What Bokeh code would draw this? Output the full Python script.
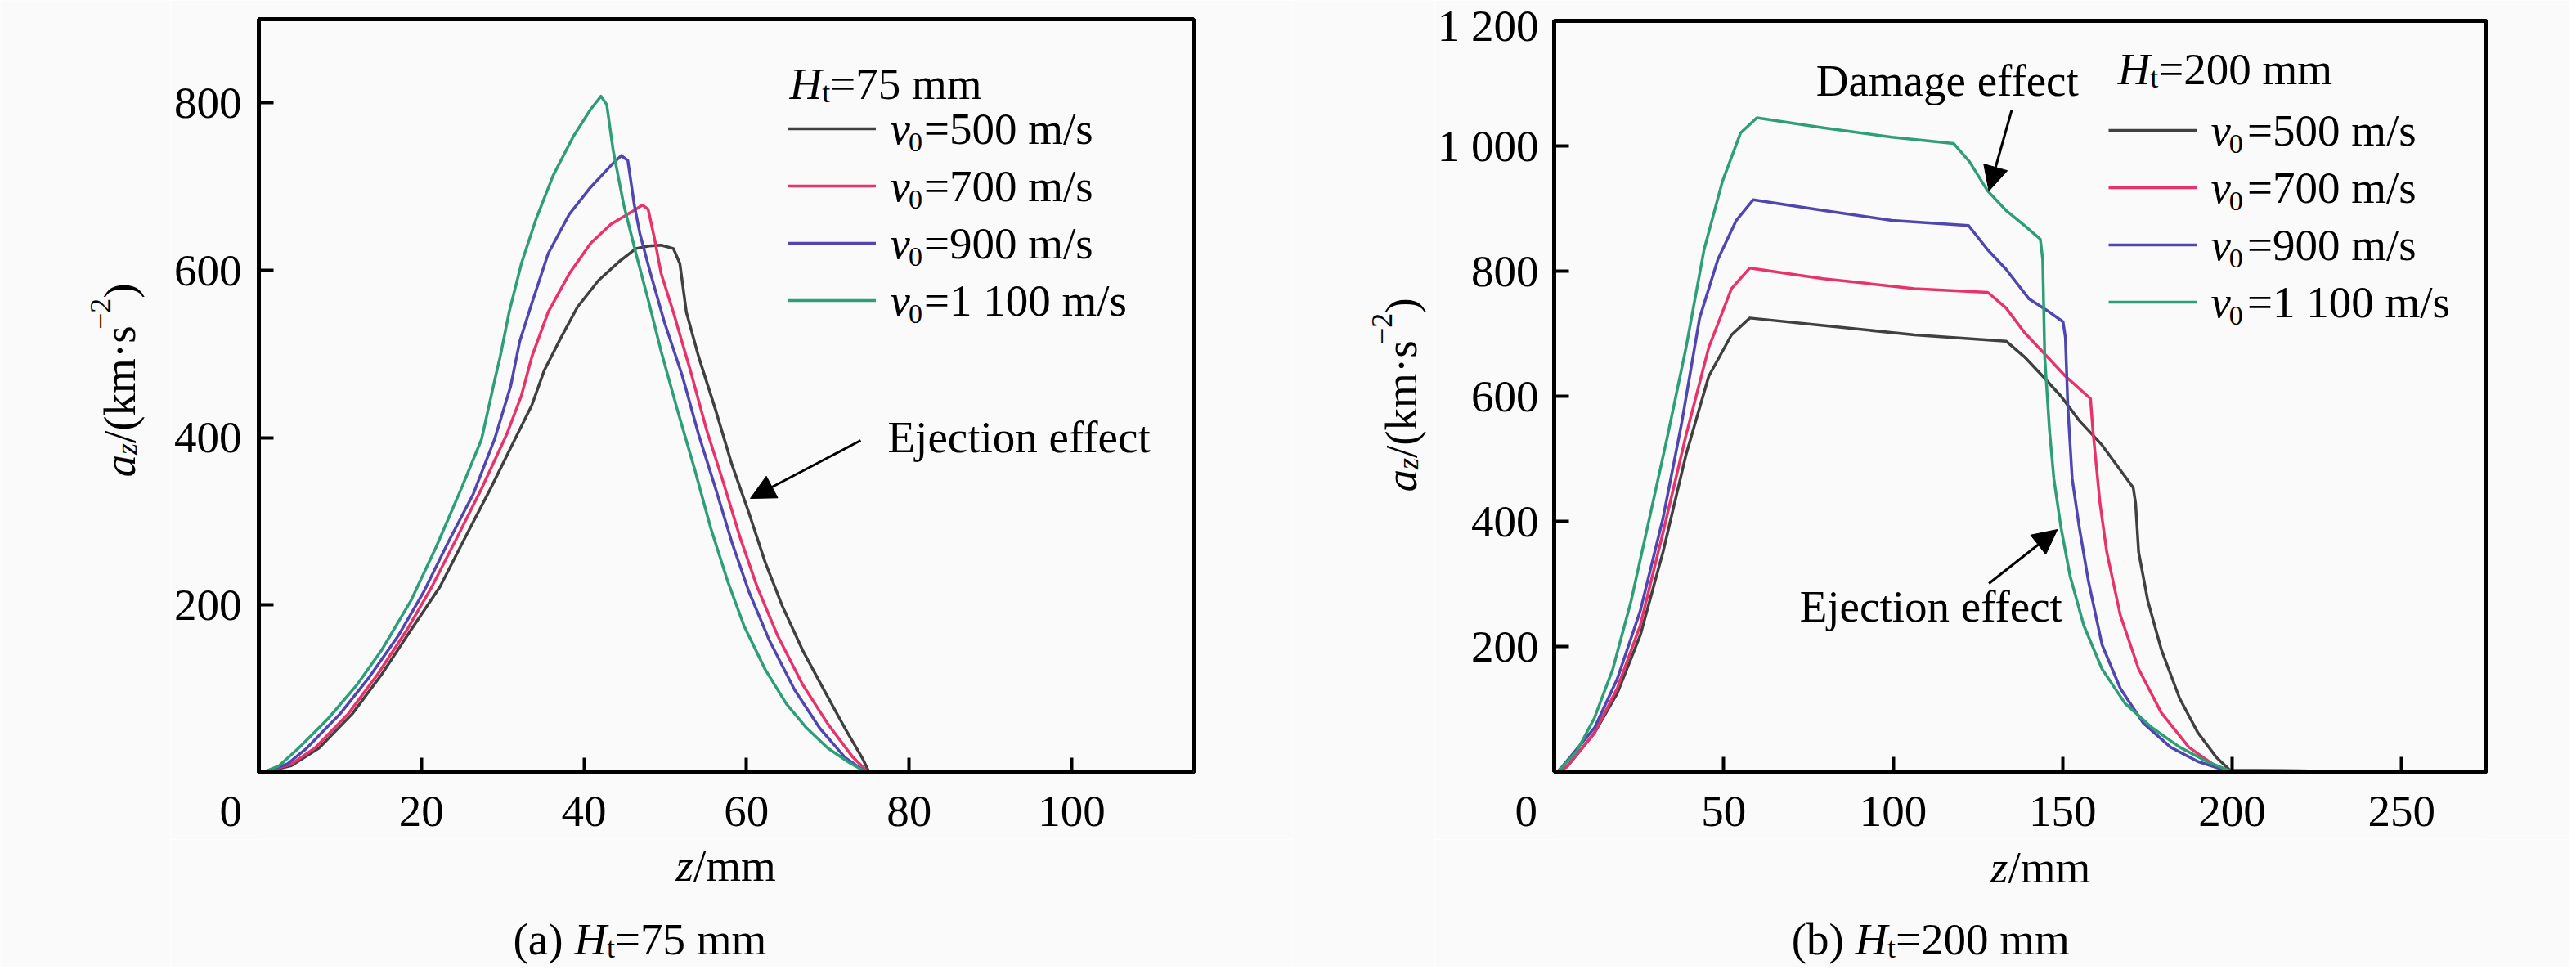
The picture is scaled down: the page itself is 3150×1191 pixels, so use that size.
from bokeh.plotting import figure
from bokeh.models import Label, Arrow, NormalHead, Legend, LegendItem, FixedTicker, Range1d
from bokeh.layouts import row, column
from bokeh.embed import file_html
from bokeh.resources import INLINE
from bokeh.core.properties import value

# ---------------- data: panel (a) H_t = 75 mm ----------------
z75_v500 = [0.5, 4, 7.4, 11.5, 15.1, 18.7, 22.3, 25.4, 28.5, 31.5, 33.6, 35.1, 37.2, 39.2, 41.8, 44.4, 46.4, 48, 49.5, 51, 51.8, 52.6, 54.1, 56.2, 58.2, 60.3, 62.3, 64.4, 66.9, 69.5, 72.1, 74.2, 75.1, 115]
a75_v500 = [0, 8, 29, 70, 117, 170, 222, 281, 339, 398, 439, 480, 520, 556, 588, 611, 626, 629, 630, 626, 608, 550, 497, 433, 368, 310, 251, 199, 146, 99, 53, 18, 0, 0]
z75_v700 = [0.5, 4, 6.9, 11, 14.6, 18.2, 21.3, 24.4, 27.4, 30.5, 32.3, 33.6, 35.6, 38.2, 40.8, 43.3, 45.9, 47.2, 47.9, 48.7, 49.5, 51, 53.1, 55.1, 57.2, 59.2, 61.3, 63.8, 66.9, 70, 73.1, 74.9, 115]
a75_v700 = [0, 10, 29, 70, 117, 170, 222, 281, 339, 404, 450, 497, 550, 596, 632, 655, 670, 678, 673, 637, 596, 550, 480, 409, 345, 281, 222, 164, 105, 58, 18, 1, 0]
z75_v900 = [0.5, 3.5, 5.9, 10, 13.6, 17.2, 20.3, 23.3, 26.4, 29, 31, 32.1, 33.6, 35.6, 38.2, 40.8, 43.3, 44.6, 45.4, 46.2, 46.9, 48.2, 49.9, 52.1, 54.1, 56.2, 58.2, 60.3, 62.8, 65.9, 69, 72.1, 74.6, 115]
a75_v900 = [0, 10, 29, 70, 114, 164, 216, 275, 333, 398, 462, 515, 561, 620, 667, 699, 725, 737, 731, 678, 643, 596, 538, 474, 404, 339, 275, 216, 158, 99, 53, 18, 1, 0]
z75_v1100 = [0.5, 2.5, 4.9, 8.5, 12.1, 15.1, 18.7, 21.8, 24.9, 27.4, 29, 29.7, 30.8, 32.3, 34.1, 36.2, 38.7, 40.8, 42.1, 42.8, 43.6, 44.9, 46.4, 48, 49.5, 51.5, 53.6, 55.6, 57.7, 59.7, 62.3, 64.9, 67.4, 70, 72.6, 74.6, 75.1, 115]
a75_v1100 = [0, 8, 29, 64, 105, 146, 205, 269, 339, 398, 468, 497, 550, 608, 661, 713, 760, 792, 808, 798, 743, 678, 620, 561, 503, 433, 363, 292, 228, 175, 123, 82, 53, 29, 12, 1, 0, 0]

# ---------------- data: panel (b) H_t = 200 mm ----------------
z200_v500 = [1, 3.8, 11.9, 18.6, 25.4, 32.1, 38.9, 45.6, 52.3, 57.7, 79.3, 106.3, 133.3, 138.7, 144.1, 149.5, 154.9, 161.6, 170.8, 171.5, 172.4, 175.1, 179.1, 184.5, 189.9, 195.3, 199.4, 245]
a200_v500 = [0, 8, 62, 125, 218, 351, 507, 632, 698, 725, 713, 698, 688, 663, 632, 600, 561, 522, 454, 429, 351, 273, 195, 117, 62, 23, 2, 0]
z200_v700 = [1, 3.8, 11.9, 18.6, 25.4, 32.1, 38.9, 45.6, 52.3, 57.7, 79.3, 106.3, 127.9, 133.3, 138.7, 144.1, 150.8, 158.2, 158.9, 159.6, 161, 163, 167, 172.4, 179.1, 187.2, 195.3, 198, 245]
a200_v700 = [0, 8, 62, 133, 234, 382, 538, 678, 772, 805, 788, 772, 766, 741, 702, 671, 632, 596, 546, 507, 429, 351, 250, 164, 94, 39, 8, 2, 0]
z200_v900 = [1, 2.4, 11.9, 18.6, 25.4, 32.1, 37.5, 42.9, 48.3, 53.7, 58.7, 79.3, 99.6, 122.2, 127.9, 133.3, 140, 145.4, 150.1, 150.8, 151.5, 152.8, 154.9, 157.6, 161.6, 167, 173.7, 181.8, 189.9, 198, 245]
a200_v900 = [0, 8, 70, 148, 257, 405, 554, 725, 819, 881, 914, 897, 881, 873, 834, 803, 756, 737, 719, 694, 585, 468, 390, 304, 203, 133, 78, 39, 16, 2, 0]
z200_v1100 = [1, 6.5, 11.9, 17.3, 22.7, 28.1, 33.5, 38.9, 44.2, 49.6, 55, 59.8, 79.3, 99.6, 117.8, 122.5, 127.9, 133.3, 138.7, 143.4, 144.1, 144.7, 146.1, 147.4, 149.5, 152.2, 156.2, 161.6, 168.4, 176.4, 184.5, 192.6, 198, 200, 245]
a200_v1100 = [0, 31, 86, 164, 273, 405, 538, 678, 834, 943, 1021, 1045, 1029, 1014, 1004, 975, 928, 897, 873, 851, 819, 663, 546, 468, 390, 312, 234, 164, 109, 70, 39, 16, 4, 0, 0]

speed_labels = ["=500 m/s", "=700 m/s", "=900 m/s", "=1 100 m/s"]
xticks_a = [0, 20, 40, 60, 80, 100]
yticks_a = [200, 400, 600, 800]
xticks_b = [0, 50, 100, 150, 200, 250]
yticks_b = [200, 400, 600, 800, 1000, 1200]
ylabels_b = {1000: "1 000", 1200: "1 200"}
zero_label = {0: "0" + "\u00a0" * 5}

FONT = "Liberation Serif"
BG = "#fafafa"
COLORS = ["#404040", "#e8336a", "#5046b0", "#2e9e78"]
FS = 55
SUB = 36
BASE_FIX = 17      # measured offset of drawn alphabetic baseline (horizontal text)
BASE_FIX_ROT = 26  # same, for text rotated by 90 degrees

REG = {' ': 250, '(': 333, ')': 333, '/': 278, '=': 564, '\u00b7': 250, '\u2212': 564,
       'a': 444, 'b': 500, 'c': 444, 'e': 444, 'f': 333, 'k': 500, 'm': 778, 's': 389,
       't': 278, 'z': 444, 'H': 722, 'E': 611, 'j': 278, 'i': 278, 'o': 500, 'n': 500,
       'D': 722, 'g': 500}
ITA = {'a': 500, 'z': 389, 'v': 444, 'H': 722, 't': 278}

TOP, BOT = 0, 1183
MAIN_BOTTOM = 1026


def tw(text, size, italic=False):
    tbl = ITA if italic else REG
    return sum(tbl.get(ch, 500) for ch in text) * size / 1000.0


def make_mapper(left, right, top, bottom, xr, yr):
    def fx(px):
        return xr[0] + (px - left) * (xr[1] - xr[0]) / (right - left)

    def fy(py):
        return yr[0] + (bottom - py) * (yr[1] - yr[0]) / (bottom - top)
    return fx, fy


def rich(p, fx, fy, px, py, segs, rotated=False, baseline="alphabetic"):
    if baseline == "alphabetic":
        fix = BASE_FIX_ROT if rotated else BASE_FIX
    else:
        fix = 0
    adv = 0.0
    for text, size, italic, shift in segs:
        if rotated:
            ax, ay = px + shift - fix, py - adv
        else:
            ax, ay = px + adv, py + shift - fix
        p.add_layout(Label(x=fx(ax), y=fy(ay), text=text, text_font=FONT,
                           text_font_size=f"{size}px",
                           text_font_style="italic" if italic else "normal",
                           text_align="left", text_baseline=baseline,
                           angle=1.5707963267948966 if rotated else 0,
                           text_color="black"))
        adv += tw(text, size, italic)


def strip_fig(fig_left, fig_right, fl, fr, top, bottom, xr):
    """Caption strip under a plot: same horizontal frame as the plot above it."""
    h = bottom - top
    p = figure(width=fig_right - fig_left, height=h, output_backend="svg",
               toolbar_location=None, x_range=Range1d(*xr), y_range=Range1d(0, h),
               x_axis_location=None, y_axis_location=None,
               min_border_left=fl - fig_left, min_border_right=fig_right - fr,
               min_border_top=0, min_border_bottom=0,
               background_fill_color=BG, border_fill_color=BG, outline_line_color=None)
    p.grid.visible = False
    fx, fy = make_mapper(fl, fr, top, bottom, xr, (0, h))
    return p, fx, fy


def side_fig(left, right, top, bottom):
    w, h = right - left, bottom - top
    p = figure(width=w, height=h, output_backend="svg", toolbar_location=None,
               x_range=Range1d(0, w), y_range=Range1d(0, h),
               x_axis_location=None, y_axis_location=None,
               min_border=0, min_border_left=0, min_border_right=0,
               min_border_top=0, min_border_bottom=0,
               background_fill_color=BG, border_fill_color=BG, outline_line_color=None)
    p.grid.visible = False
    fx, fy = make_mapper(left, right, top, bottom, (0, w), (0, h))
    return p, fx, fy


def base_fig(fig_left, fig_right, fl, fr, ft, fb, xr, yr, xt, yt, ystand, xstand):
    p = figure(width=fig_right - fig_left, height=MAIN_BOTTOM - TOP,
               output_backend="svg", toolbar_location=None,
               x_range=Range1d(*xr), y_range=Range1d(*yr),
               min_border_left=fl - fig_left, min_border_right=fig_right - fr,
               min_border_top=ft - TOP, min_border_bottom=MAIN_BOTTOM - fb,
               background_fill_color=BG, border_fill_color=BG)
    p.grid.visible = False
    p.outline_line_color = "black"
    p.outline_line_width = 5
    for ax in (p.xaxis[0], p.yaxis[0]):
        ax.axis_line_width = 5
        ax.axis_line_color = "black"
        ax.major_tick_in = 18
        ax.major_tick_out = 0
        ax.minor_tick_in = 0
        ax.minor_tick_out = 0
        ax.major_tick_line_width = 4
        ax.major_tick_line_color = "black"
        ax.major_label_text_font = FONT
        ax.major_label_text_font_size = f"{FS}px"
        ax.major_label_text_color = "black"
    p.xaxis.ticker = FixedTicker(ticks=xt)
    p.yaxis.ticker = FixedTicker(ticks=yt)
    p.xaxis.major_label_overrides = zero_label
    p.xaxis.major_label_standoff = xstand
    p.yaxis.major_label_standoff = ystand
    return p


def add_series(p, fx, fy, series, leg_loc, leg_standoff, row_y, v_x, title_xy, title_txt):
    rends = []
    for (xs, ys), c in zip(series, COLORS):
        r = p.line(xs, ys, line_color=c, line_width=3.5, line_join="round")
        rends.append(r)
    items = [LegendItem(label=value(t), renderers=[r]) for t, r in zip(speed_labels, rends)]
    leg = Legend(items=items, location=leg_loc, orientation="vertical",
                 glyph_width=108, glyph_height=70, label_height=70, spacing=0,
                 padding=0, margin=0, title_standoff=0, label_standoff=leg_standoff,
                 label_text_font=FONT, label_text_font_size=f"{FS}px",
                 label_text_color="black", label_text_baseline="middle",
                 border_line_alpha=0, background_fill_alpha=0)
    p.add_layout(leg)
    for ry in row_y:
        rich(p, fx, fy, v_x, ry, [("v", FS, True, 0)], baseline="middle")
        rich(p, fx, fy, v_x + tw("v", FS, True) - 2, ry, [("0", SUB - 2, False, 16)],
             baseline="middle")
    rich(p, fx, fy, title_xy[0], title_xy[1],
         [("H", FS, True, 0), ("t", SUB, False, 10), (title_txt, FS, False, 0)])


def ylabel(p, fx, fy, x, y):
    rich(p, fx, fy, x, y,
         [("a", FS, True, 0), ("z", SUB, True, 8), ("/(km\u00b7s", FS, False, 0),
          ("\u22122", SUB, False, -24), (")", FS, False, 0)], rotated=True)


def bottom_texts(p, fx, fy, xlab_xy, cap_xy, cap_txt):
    rich(p, fx, fy, xlab_xy[0], xlab_xy[1], [("z", FS, True, 0), ("/mm", FS, False, 0)])
    rich(p, fx, fy, cap_xy[0], cap_xy[1],
         [(cap_txt[0], FS, False, 0), ("H", FS, True, 0), ("t", SUB, False, 10),
          (cap_txt[1], FS, False, 0)])


# ---------------- panel (a) ----------------
A_L, A_R, A_T, A_B = 316, 1459, 23, 944
A_FIG_L, A_FIG_R = 208, 1580
fxa, fya = make_mapper(A_L, A_R, A_T, A_B, (0, 115), (0, 900))
pa = base_fig(A_FIG_L, A_FIG_R, A_L, A_R, A_T, A_B, (0, 115), (0, 900),
              xticks_a, yticks_a, 21, 16)
add_series(pa, fxa, fya,
           [(z75_v500, a75_v500), (z75_v700, a75_v700), (z75_v900, a75_v900), (z75_v1100, a75_v1100)],
           leg_loc=(963 - A_L, A_B - (122 + 280)), leg_standoff=59,
           row_y=[157, 227, 297, 367], v_x=1088, title_xy=(965, 119), title_txt="=75 mm")
rich(pa, fxa, fya, 1085, 551, [("Ejection effect", FS, False, 0)])
pa.add_layout(Arrow(end=NormalHead(size=30, fill_color="black", line_color="black"),
                    x_start=fxa(1052), y_start=fya(538), x_end=fxa(917), y_end=fya(609),
                    line_width=3, line_color="black"))

ya, fxya, fyya = side_fig(TOP, A_FIG_L, TOP, BOT)
ylabel(ya, fxya, fyya, 172, 583)
ba, fxba, fyba = strip_fig(A_FIG_L, A_FIG_R, A_L, A_R, MAIN_BOTTOM, BOT, (0, 115))
bottom_texts(ba, fxba, fyba, (826, 1075), (627, 1165), ("(a) ", "=75 mm"))

# ---------------- panel (b) ----------------
B_L, B_R, B_T, B_B = 1897, 3040, 25, 943
B_FIG_L, B_FIG_R = 1754, 3142
fxb, fyb = make_mapper(B_L, B_R, B_T, B_B, (0, 275), (0, 1200))
pb = base_fig(B_FIG_L, B_FIG_R, B_L, B_R, B_T, B_B, (0, 275), (0, 1200),
              xticks_b, yticks_b, 19, 17)
pb.yaxis.major_label_overrides = ylabels_b
add_series(pb, fxb, fyb,
           [(z200_v500, a200_v500), (z200_v700, a200_v700), (z200_v900, a200_v900), (z200_v1100, a200_v1100)],
           leg_loc=(2575 - B_L, B_B - (124 + 280)), leg_standoff=62,
           row_y=[159, 229, 299, 369], v_x=2702, title_xy=(2588, 101), title_txt="=200 mm")
rich(pb, fxb, fyb, 2218, 115, [("Damage effect", FS, False, 0)])
rich(pb, fxb, fyb, 2198, 758, [("Ejection effect", FS, False, 0)])
pb.add_layout(Arrow(end=NormalHead(size=30, fill_color="black", line_color="black"),
                    x_start=fxb(2458), y_start=fyb(134), x_end=fxb(2430), y_end=fyb(233),
                    line_width=3, line_color="black"))
pb.add_layout(Arrow(end=NormalHead(size=30, fill_color="black", line_color="black"),
                    x_start=fxb(2430), y_start=fyb(713), x_end=fxb(2514), y_end=fyb(647),
                    line_width=3, line_color="black"))

yb, fxyb, fyyb = side_fig(A_FIG_R, B_FIG_L, TOP, BOT)
ylabel(yb, fxyb, fyyb, 1739, 601)
bb, fxbb, fybb = strip_fig(B_FIG_L, B_FIG_R, B_L, B_R, MAIN_BOTTOM, BOT, (0, 275))
bottom_texts(bb, fxbb, fybb, (2432, 1077), (2188, 1165), ("(b) ", "=200 mm"))

layout = row(ya, column(pa, ba), yb, column(pb, bb))
open("out.html", "w").write(file_html(layout, INLINE))
